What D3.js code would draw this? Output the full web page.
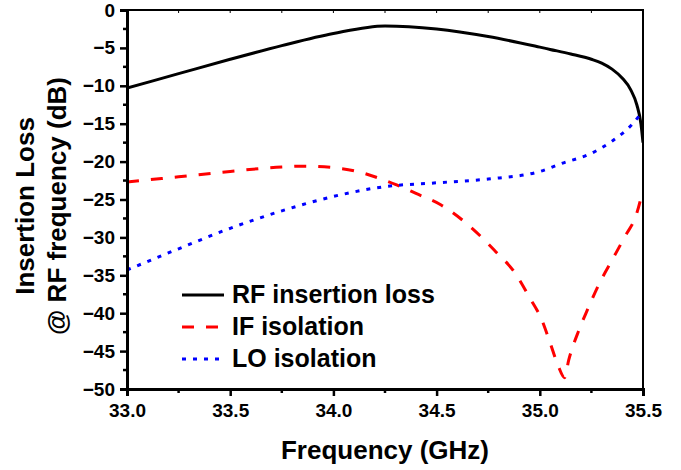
<!DOCTYPE html>
<html>
<head>
<meta charset="utf-8">
<script src="https://cdn.jsdelivr.net/npm/d3@7"></script>
<style>
  body { margin: 0; background: #fff; }
  svg text { font-family: Arial, "Liberation Sans", sans-serif; font-weight: bold; }
</style>
</head>
<body>
<div id="chart"></div>
<script>
// RF insertion loss (black solid)
const rfFreq = [33.0, 33.25, 33.5, 33.75, 34.0, 34.25, 34.5, 34.75, 35.0, 35.05, 35.15, 35.25, 35.3, 35.35, 35.4, 35.44, 35.47, 35.49, 35.5];
const rfLoss = [-10.3, -8.4, -6.5, -4.7, -3.1, -2.1, -2.5, -3.5, -4.9, -5.2, -5.8, -6.5, -7.0, -7.8, -9.0, -10.5, -12.5, -15.0, -17.5];

// IF isolation (red dashed)
const ifFreq = [33.0, 33.25, 33.5, 33.75, 33.85, 34.0, 34.1, 34.2, 34.3, 34.4, 34.52, 34.68, 34.78, 34.88, 34.95, 35.01, 35.05, 35.09, 35.12, 35.14, 35.19, 35.23, 35.29, 35.35, 35.41, 35.47, 35.5];
const ifIso = [-22.7, -22.0, -21.3, -20.7, -20.6, -20.8, -21.2, -22.0, -23.0, -24.2, -25.7, -29.0, -31.7, -34.7, -37.9, -40.9, -43.9, -47.0, -48.5, -46.2, -42.2, -39.6, -36.0, -33.0, -30.0, -26.8, -23.7];

// LO isolation (blue dotted)
const loFreq = [33.0, 33.25, 33.5, 33.75, 34.0, 34.25, 34.5, 34.75, 35.0, 35.1, 35.25, 35.35, 35.45, 35.5];
const loIso = [-34.3, -31.5, -28.8, -26.5, -24.6, -23.3, -22.8, -22.3, -21.3, -20.3, -18.9, -17.3, -15.0, -13.3];

const xTicks = [33.0, 33.5, 34.0, 34.5, 35.0, 35.5];
const yTicks = [0, -5, -10, -15, -20, -25, -30, -35, -40, -45, -50];

const series = [
  { name: "RF insertion loss", x: rfFreq, y: rfLoss, color: "#000", dash: null },
  { name: "IF isolation", x: ifFreq, y: ifIso, color: "#ff0000", dash: "12,12" },
  { name: "LO isolation", x: loFreq, y: loIso, color: "#0000ff", dash: "4,7" }
];

const width = 681, height = 470;
const margin = { top: 10, right: 38, bottom: 81, left: 127 };

const svg = d3.select("#chart").append("svg")
  .attr("width", width)
  .attr("height", height);

const x = d3.scaleLinear().domain([33.0, 35.5]).range([margin.left, width - margin.right]);
const y = d3.scaleLinear().domain([-50, 0]).range([height - margin.bottom, margin.top]);

svg.append("clipPath").attr("id", "plot")
  .append("rect")
  .attr("x", x(33.0)).attr("y", y(0))
  .attr("width", x(35.5) - x(33.0)).attr("height", y(-50) - y(0));

// curves
const line = d3.line().curve(d3.curveMonotoneX);
svg.append("g").attr("clip-path", "url(#plot)")
  .selectAll("path")
  .data(series)
  .join("path")
  .attr("d", s => line(s.x.map((f, i) => [x(f), y(s.y[i])])))
  .attr("fill", "none")
  .attr("stroke", s => s.color)
  .attr("stroke-width", 3)
  .attr("stroke-dasharray", s => s.dash);

// frame
svg.append("rect")
  .attr("x", x(33.0)).attr("y", y(0))
  .attr("width", x(35.5) - x(33.0)).attr("height", y(-50) - y(0))
  .attr("fill", "none").attr("stroke", "#000").attr("stroke-width", 2);

// bottom axis
const xAxis = svg.append("g")
  .attr("transform", `translate(0,${y(-50)})`)
  .call(d3.axisBottom(x).tickValues(xTicks).tickFormat(d3.format(".1f")).tickSize(7).tickPadding(8));
xAxis.selectAll("text").style("font-size", "19px");
xAxis.selectAll(".minor")
  .data(d3.range(33.25, 35.5, 0.5))
  .join("line").attr("class", "minor")
  .attr("x1", d => x(d)).attr("x2", d => x(d))
  .attr("y1", 0).attr("y2", 4)
  .attr("stroke", "#000").attr("stroke-width", 2.5);

// left axis
const yAxis = svg.append("g")
  .attr("transform", `translate(${x(33.0)},0)`)
  .call(d3.axisLeft(y).tickValues(yTicks).tickSize(7).tickPadding(5));
yAxis.selectAll("text").style("font-size", "19px");
yAxis.selectAll(".minor")
  .data(d3.range(-47.5, 0, 5))
  .join("line").attr("class", "minor")
  .attr("x1", 0).attr("x2", -4)
  .attr("y1", d => y(d)).attr("y2", d => y(d))
  .attr("stroke", "#000").attr("stroke-width", 2.5);

[xAxis, yAxis].forEach(a => {
  a.select(".domain").attr("stroke-width", 3);
  a.selectAll(".tick line").attr("stroke-width", 2.5);
  a.selectAll("text").attr("fill", "#000");
});

// top mirror ticks
svg.append("g").selectAll("line")
  .data(d3.range(33.25, 35.5, 0.25))
  .join("line")
  .attr("x1", d => x(d)).attr("x2", d => x(d))
  .attr("y1", y(0)).attr("y2", y(0) + 3)
  .attr("stroke", "#000").attr("stroke-width", 1);

// axis titles
svg.append("text")
  .attr("x", (x(33.0) + x(35.5)) / 2).attr("y", 459)
  .attr("text-anchor", "middle")
  .style("font-size", "26px")
  .text("Frequency (GHz)");

const yTitle = svg.append("text")
  .attr("transform", "translate(0,206) rotate(-90)")
  .attr("text-anchor", "middle")
  .style("font-size", "26px");
yTitle.append("tspan").attr("x", 0).attr("y", 34).text("Insertion Loss");
yTitle.append("tspan").attr("x", 0).attr("y", 66).text("@ RF frequency (dB)");

// legend
const legend = svg.append("g").attr("transform", "translate(182,295)");
const row = legend.selectAll("g")
  .data(series)
  .join("g")
  .attr("transform", (d, i) => `translate(0,${i * 32})`);
row.append("line")
  .attr("x1", 0).attr("x2", 42)
  .attr("stroke", d => d.color)
  .attr("stroke-width", 3)
  .attr("stroke-dasharray", d => d.dash);
row.append("text")
  .attr("x", 50).attr("y", 8)
  .style("font-size", "25px")
  .text(d => d.name);
</script>
</body>
</html>
